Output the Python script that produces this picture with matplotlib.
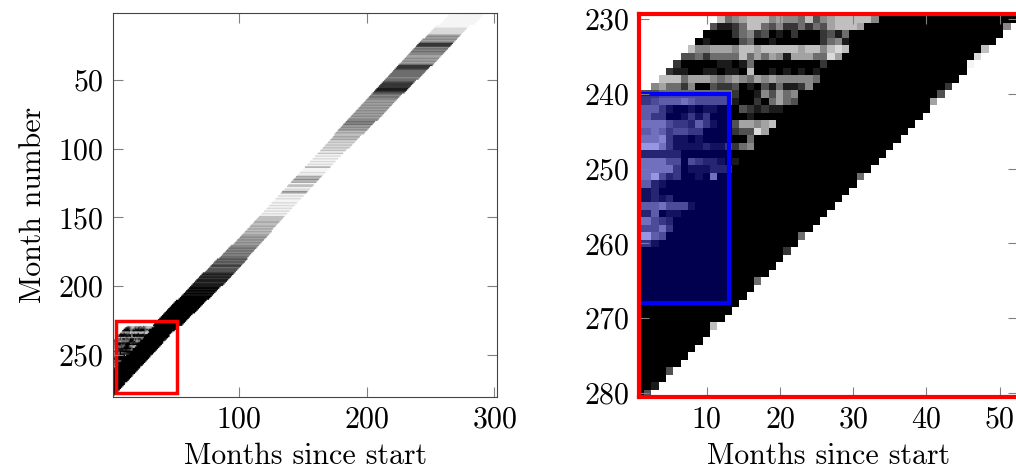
"""
Cohort band: month number vs months since start, with a zoom on the last rows
"""

import numpy as np
import matplotlib
matplotlib.use('Agg')
import matplotlib.pyplot as plt
from matplotlib.patches import Rectangle

plt.rcParams['font.family'] = 'cmr10'
plt.rcParams['mathtext.fontset'] = 'cm'
plt.rcParams['axes.formatter.use_mathtext'] = True

N_MONTHS = 280          # rows: month number 1..280
N_COLS = 302            # columns: months since start 1..302
S_HI_BOTTOM = 282       # rows >= 230: row + col <= 282

# ---- rows 1..229, blocks of 10 rows ----
# band edges in s = row + col, grey level per row (0 black .. 9 light)
BLOCK_START = [1, 11, 21, 31, 41, 51, 61, 71, 81, 91, 101, 111,
               121, 131, 141, 151, 161, 171, 181, 191, 201, 211, 221]
S_LO_BLOCK = [268, 266, 265, 265, 265, 265, 265, 265, 265, 266, 266, 266,
              266, 266, 266, 266, 266, 265, 264, 263, 263, 262, 262]
S_HI_BLOCK = [294, 291, 291, 291, 290, 289, 288, 288, 287, 286, 285, 285,
              285, 285, 285, 285, 286, 286, 287, 287, 286, 285, 284]
ROW_TONE = [
    "9999999999", "9988888656", "5652225454", "5566565652",
    "2234444454", "4322221123", "4545565656", "5656565655",
    "4546565767", "7676878787", "8797989898", "9896999898",
    "6757697798", "8579898998", "9898989897", "7776776767",
    "6766565656", "5545454544", "3434324333", "2121211211",
    "1010101000", "0000000000", "000000000",
]

# ---- rows 230..260: cells seen in the zoom (first column, grey levels) ----
# columns after the string are black up to the lower edge
ZOOM_ROWS = {
    230: (12, "7456777565547356777775"),
    231: (11, "311247743522424367776"),
    232: (10, "00002452301020002314"),
    233: (9, "010000340010000002451"),
    234: (8, "7556665776777776775787"),
    235: (7, "3342444474646516664486"),
    236: (6, "200000110140000000002"),
    237: (5, "211001101107001010101"),
    238: (4, "7774666545654656555554"),
    239: (3, "56442500322301031411250"),
    240: (1, "3334444444444200153645"),
    241: (1, "3345556544444100204643"),
    242: (1, "55531001011000321211"),
    243: (1, "5533001313000001"),
    244: (1, "6666433253100366567"),
    245: (1, "556534433000023386"),
    246: (1, "6667311010000004"),
    247: (1, "8886311112113245"),
    248: (1, "2222220000000"),
    249: (1, "66664404322101"),
    250: (1, "6666630111222"),
    251: (1, "6684230010600"),
    252: (1, "5521"),
    253: (1, "112"),
    254: (1, "11212"),
    255: (1, "55564441"),
    256: (1, "225011"),
    257: (1, "66432"),
    258: (1, "44463"),
    259: (1, "8854"),
    260: (1, "331"),
}

# lighter cells on the lower edge: (row, col, grey level)
EDGE_CELLS = [(231, 51, 5), (234, 48, 7), (235, 47, 8), (236, 46, 9),
              (239, 43, 2), (240, 42, 3), (241, 41, 6), (251, 31, 4),
              (259, 23, 4), (261, 21, 2), (265, 17, 4), (271, 11, 7),
              (277, 5, 3), (279, 3, 1), (280, 2, 3)]

OVERVIEW_BOX = (3.0, 225.3, 48.3, 52.8)   # x, y, w, h in the left panel
ZOOM_BOX = (0.5, 240.0, 12.5, 28.0)       # highlighted cells in the zoom


def grey(ch):
    # digit 0..9 -> grey value, 9 is a very faint grey
    return int(ch) / 9 * 0.96


# ============================================================
# matrix
# ============================================================

M = np.ones((N_MONTHS, N_COLS))
cols = np.arange(1, N_COLS + 1)
for b, start in enumerate(BLOCK_START):
    for i, ch in enumerate(ROW_TONE[b]):
        m = start + i
        band = (m + cols >= S_LO_BLOCK[b]) & (m + cols <= S_HI_BLOCK[b])
        M[m - 1, band] = grey(ch)

for m in range(230, N_MONTHS + 1):
    first, tones = ZOOM_ROWS.get(m, (1, ''))
    band = (cols >= first) & (m + cols <= S_HI_BOTTOM)
    M[m - 1, band] = 0.0
    for i, ch in enumerate(tones):
        M[m - 1, first - 1 + i] = grey(ch)

for m, k, v in EDGE_CELLS:
    M[m - 1, k - 1] = grey(str(v))

# ============================================================
# figure
# ============================================================

FS = 21.5
fig = plt.figure(figsize=(10.16, 4.75), dpi=100)
ax1 = fig.add_axes([0.1115, 0.1648, 0.3774, 0.8072])
ax2 = fig.add_axes([0.6291, 0.1648, 0.3729, 0.8063])

ext = (0.5, N_COLS + 0.5, N_MONTHS + 0.5, 0.5)
ax1.imshow(M, cmap='gray', vmin=0, vmax=1, extent=ext, aspect='auto',
           interpolation='antialiased')
ax2.imshow(M, cmap='gray', vmin=0, vmax=1, extent=ext, aspect='auto',
           interpolation='nearest')

# left panel
ax1.set_xlim(1.2, 301.9)
ax1.set_ylim(280.7, 1.2)
ax1.set_xticks([100, 200, 300])
ax1.set_yticks([50, 100, 150, 200, 250])
for s in ax1.spines.values():
    s.set_color('#444444')
    s.set_linewidth(0.8)
ax1.add_patch(Rectangle(OVERVIEW_BOX[:2], OVERVIEW_BOX[2], OVERVIEW_BOX[3],
                        fill=False, edgecolor='red', linewidth=2.5))
ax1.set_xlabel('Months since start', fontsize=FS, labelpad=6)
ax1.set_ylabel('Month number', fontsize=FS, labelpad=8)

# right panel (zoom)
ax2.set_xlim(0.8, 52.5)
ax2.set_ylim(280.5, 229.3)
ax2.set_xticks([10, 20, 30, 40, 50])
ax2.set_yticks([230, 240, 250, 260, 270, 280])
for s in ax2.spines.values():
    s.set_color('red')
    s.set_linewidth(3.0)
ax2.add_patch(Rectangle(ZOOM_BOX[:2], ZOOM_BOX[2], ZOOM_BOX[3],
                        facecolor=(0, 0, 1, 0.31), edgecolor='blue',
                        linewidth=3.0))
ax2.set_xlabel('Months since start', fontsize=FS, labelpad=6)

for ax in (ax1, ax2):
    ax.tick_params(direction='in', length=7.5, width=0.8, color='gray',
                   top=True, right=True, labelsize=FS, pad=7)

plt.savefig('out.png', dpi=100)
